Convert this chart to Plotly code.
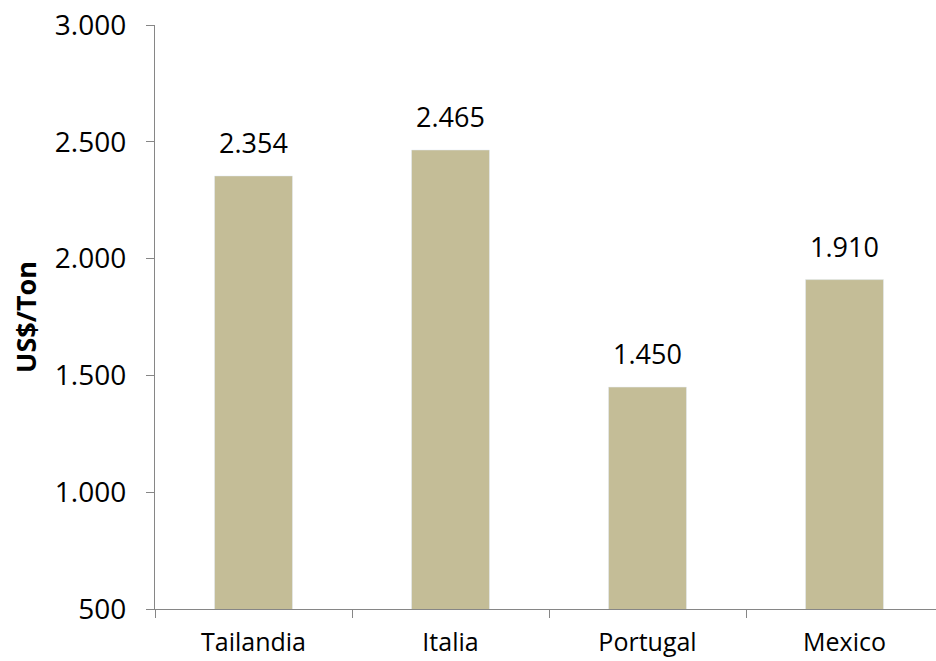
import plotly.graph_objects as go

categories = ["Tailandia", "Italia", "Portugal", "Mexico"]
values = [2354, 2465, 1450, 1910]
y_ticks = [500, 1000, 1500, 2000, 2500, 3000]

BAR = "#C4BD97"
AXIS = "#868686"
FONT = "Open Sans"

W, H = 936, 661
L, T, B = 155, 25, 52
STEP = 197  # pixels per category

fig = go.Figure()
fig.add_trace(go.Bar(
    x=categories, y=values, marker_color=BAR, width=78 / STEP,
    hoverinfo="skip",
))

for c, v in zip(categories, values):
    fig.add_annotation(
        x=c, y=v, text=f"{v:,.0f}".replace(",", "."), showarrow=False,
        yanchor="bottom", yshift=13,
        font=dict(family=FONT, size=27, color="black"),
    )

fig.update_layout(
    width=W, height=H,
    margin=dict(l=L, r=0, t=T, b=B, autoexpand=False),
    paper_bgcolor="white", plot_bgcolor="white",
    separators=",.",
    showlegend=False,
    font=dict(family=FONT, size=27, color="black"),
    xaxis=dict(
        range=[-0.5, -0.5 + (W - L) / STEP],
        showline=True, linecolor=AXIS, linewidth=1.3,
        ticks="outside", tickson="boundaries", ticklen=8, tickcolor=AXIS, tickwidth=1.3,
        showgrid=False, zeroline=False,
        ticklabelstandoff=11, ticklabeloverflow="allow",
        tickfont=dict(family=FONT, size=25),
    ),
    yaxis=dict(
        range=[500, 3000], tickvals=y_ticks, tickformat=",.0f",
        showline=True, linecolor=AXIS, linewidth=1.3,
        ticks="outside", ticklen=8, tickcolor=AXIS, tickwidth=1.3,
        showgrid=False, zeroline=False,
        ticklabelstandoff=14, ticklabeloverflow="allow",
        tickfont=dict(family=FONT, size=28),
        title=dict(text="<b>US$/Ton</b>", font=dict(family=FONT, size=27), standoff=10),
    ),
)

fig.write_html(
    "out.html",
    config={"displayModeBar": False},
    post_script="document.body.style.margin='0';document.body.style.overflow='hidden';",
)
